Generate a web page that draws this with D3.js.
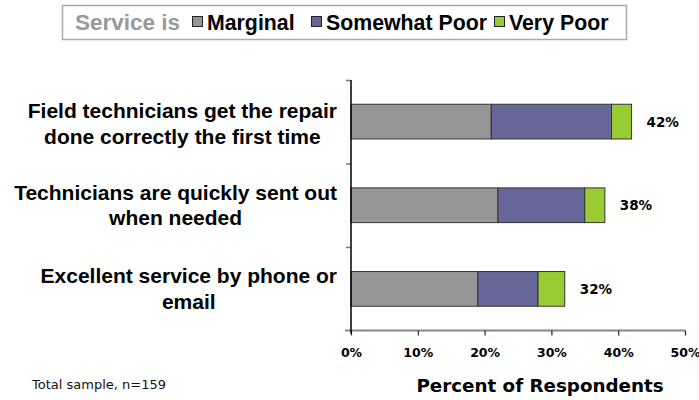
<!DOCTYPE html>
<html>
<head>
<meta charset="utf-8">
<script src="https://cdn.jsdelivr.net/npm/d3@7"></script>
<style>
  html, body { margin: 0; padding: 0; background: #fff; }
  svg { display: block; }
</style>
</head>
<body>
<svg id="chart" width="699" height="400"></svg>
<script>
// Survey statements (each split into its display lines)
const categories = [
  ["Field technicians get the repair", "done correctly the first time"],
  ["Technicians are quickly sent out", "when needed"],
  ["Excellent service by phone or", "email"]
];
const seriesNames = ["Marginal", "Somewhat Poor", "Very Poor"];
const marginal     = [21, 22, 19];
const somewhatPoor = [18, 13, 9];
const veryPoor     = [3, 3, 4];
const totals       = [42, 38, 32];
const xTicks       = [0, 10, 20, 30, 40, 50];
const colors       = ["#969696", "#666699", "#99cc33"];

const svg = d3.select("#chart");
const sansBold = "'Liberation Sans', Arial, sans-serif";
const verdana = "'DejaVu Sans', Verdana, sans-serif";

const plot = { left: 351, right: 685, top: 80, bottom: 330.5 };

const x = d3.scaleLinear().domain([0, 50]).range([plot.left, plot.right]);
const y = d3.scaleBand().domain(d3.range(categories.length))
  .range([plot.top, plot.bottom]).paddingInner(0.585).paddingOuter(0.29);

// stacked rows
const rows = categories.map((c, i) => ({
  i, Marginal: marginal[i], "Somewhat Poor": somewhatPoor[i], "Very Poor": veryPoor[i]
}));
const stack = d3.stack().keys(seriesNames)(rows);

// legend box
const legend = svg.append("g");
legend.append("rect")
  .attr("x", 62.5).attr("y", 5.5).attr("width", 564).attr("height", 34)
  .attr("fill", "#fff").attr("stroke", "#aaa").attr("stroke-width", 1.5);
legend.append("text")
  .attr("x", 75).attr("y", 30)
  .attr("font-family", sansBold).attr("font-weight", "bold").attr("font-size", 22.5)
  .attr("fill", "#999").text("Service is");
const legendPos = [192, 311, 494];
seriesNames.forEach((s, k) => {
  legend.append("rect")
    .attr("x", legendPos[k] + 0.5).attr("y", 16.5).attr("width", 10).attr("height", 10)
    .attr("fill", colors[k]).attr("stroke", "#222").attr("stroke-width", 1);
  legend.append("text")
    .attr("x", legendPos[k] + 15).attr("y", 29.5)
    .attr("font-family", sansBold).attr("font-weight", "bold").attr("font-size", 21.3)
    .attr("fill", "#000").text(s);
});

// bars
stack.forEach((layer, k) => {
  svg.append("g").selectAll("rect").data(layer).join("rect")
    .attr("x", d => x(d[0]))
    .attr("y", (d, i) => y(i))
    .attr("width", d => x(d[1]) - x(d[0]))
    .attr("height", y.bandwidth())
    .attr("fill", colors[k])
    .attr("stroke", "#333").attr("stroke-width", 1);
});

// total labels
svg.append("g").selectAll("text").data(totals).join("text")
  .attr("x", d => x(d) + 15)
  .attr("y", (d, i) => y(i) + y.bandwidth() / 2 + 5)
  .attr("font-family", verdana).attr("font-weight", "bold").attr("font-size", 13.5)
  .attr("fill", "#000")
  .text(d => d + "%");

// category labels, centred on their longest line which ends at x=337
const catG = svg.append("g");
const catShift = [3, 1, 1];
categories.forEach((lines, i) => {
  const t = catG.append("text")
    .attr("font-family", sansBold).attr("font-weight", "bold").attr("font-size", 21)
    .attr("fill", "#000").attr("text-anchor", "middle");
  const cy = y(i) + y.bandwidth() / 2 + catShift[i];
  lines.forEach((ln, j) => {
    t.append("tspan").attr("y", cy - 6.5 + j * 25.5).text(ln);
  });
  const w = d3.max(t.selectAll("tspan").nodes(), n => n.getComputedTextLength());
  t.selectAll("tspan").attr("x", 337 - w / 2);
});

// y axis: ticks at the category boundaries
const yb = d3.scaleLinear().domain([0, categories.length]).range([plot.bottom, plot.top]);
const yAxis = svg.append("g").attr("transform", `translate(${plot.left},0)`)
  .call(d3.axisLeft(yb).tickValues(d3.range(1, categories.length + 1)).tickSize(5).tickFormat(""));
yAxis.select(".domain").remove();
yAxis.selectAll(".tick line").attr("stroke", "#777").attr("stroke-width", 1.5);

// x axis
const xAxis = svg.append("g").attr("transform", `translate(0,${plot.bottom})`)
  .call(d3.axisBottom(x).tickValues(xTicks).tickSize(5).tickSizeOuter(0).tickPadding(13)
    .tickFormat(d => d + "%"));
xAxis.select(".domain").attr("d", `M${plot.left - 6},0H${plot.right}`)
  .attr("stroke", "#888").attr("stroke-width", 2);
xAxis.selectAll(".tick line").attr("stroke", "#222").attr("stroke-width", 1.2);
xAxis.selectAll(".tick text")
  .attr("font-family", verdana).attr("font-weight", "bold").attr("font-size", 12.5)
  .attr("fill", "#000");

// vertical axis line drawn over the bars' left edges
svg.append("line")
  .attr("x1", plot.left).attr("x2", plot.left)
  .attr("y1", plot.top).attr("y2", plot.bottom + 3)
  .attr("stroke", "#000").attr("stroke-width", 1.5);

// axis title and footnote
svg.append("text")
  .attr("x", 540).attr("y", 392)
  .attr("text-anchor", "middle")
  .attr("font-family", verdana).attr("font-weight", "bold").attr("font-size", 18.3)
  .attr("fill", "#000").text("Percent of Respondents");
svg.append("text")
  .attr("x", 32).attr("y", 389)
  .attr("font-family", verdana).attr("font-size", 13)
  .attr("fill", "#111").text("Total sample, n=159");
</script>
</body>
</html>
